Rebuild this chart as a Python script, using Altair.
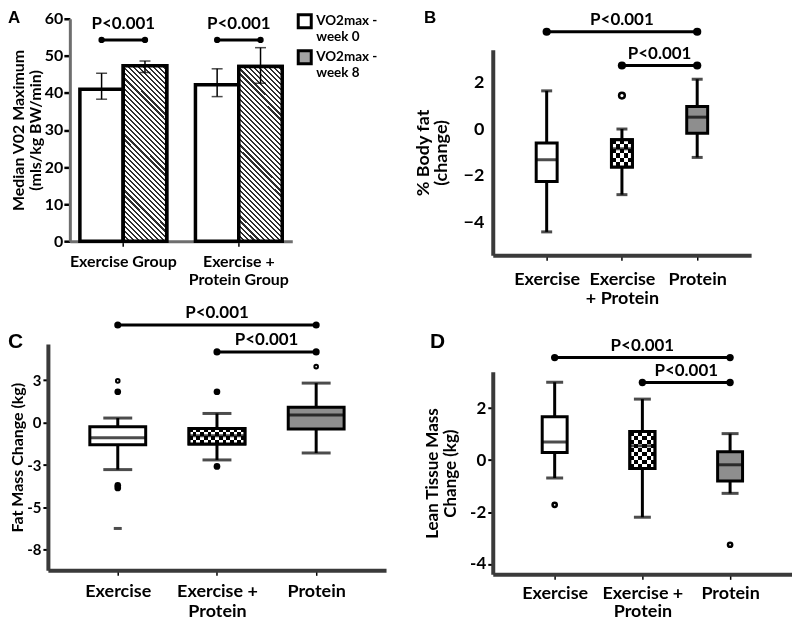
import json
import math
import altair as alt
import pandas as pd

FONT = "Lato"
LETTER_FONT = "Liberation Sans"
INK = "black"
AXIS_GRAY = "#3a3a3a"
BOX_GRAY = "#8e8e8e"

# ---------------- Panel A : grouped bars ----------------
A_GROUPS = ["Exercise Group", "Exercise + Protein Group"]
A_GROUP_LINES = [["Exercise Group"], ["Exercise +", "Protein Group"]]
A_SERIES = ["VO2max - week 0", "VO2max - week 8"]
A_MEDIAN_W0 = [41.0, 42.2]
A_MEDIAN_W8 = [47.3, 47.1]
A_LOW_W0 = [38.3, 39.0]
A_HIGH_W0 = [45.3, 46.5]
A_LOW_W8 = [45.5, 42.6]
A_HIGH_W8 = [48.6, 52.2]
A_Y_TICKS = [0, 10, 20, 30, 40, 50, 60]
A_Y_TITLE = ["Median V02 Maximum", "(mls/kg BW/min)"]
A_BRACKET_LEVEL = [54.3, 54.3]
A_P_TEXT = ["P<0.001", "P<0.001"]

# ---------------- Panels B, C, D : box plots ----------------
CATS = ["Exercise", "Exercise + Protein", "Protein"]
CAT_POS = [0, 1, 2]

B_X_LINES = [["Exercise"], ["Exercise", "+ Protein"], ["Protein"]]
B_LO = [-4.42, -2.82, -1.22]
B_Q1 = [-2.25, -1.63, -0.18]
B_MED = [-1.32, -0.85, 0.51]
B_Q3 = [-0.60, -0.46, 0.97]
B_HI = [1.64, 0.00, 2.14]
B_OUT_CAT = [1]
B_OUT_VAL = [1.44]
B_OUT_KIND = ["open"]
B_Y_TICKS = [2, 0, -2, -4]
B_Y_LABELS = ["2", "0", "\u22122", "\u22124"]
B_Y_TITLE = ["% Body fat", "(change)"]
B_BR_FROM = [0, 1]
B_BR_TO = [2, 2]
B_BR_LEVEL = [4.18, 2.73]
B_BR_TEXT = ["P<0.001", "P<0.001"]

C_X_LINES = [["Exercise"], ["Exercise +", "Protein"], ["Protein"]]
C_LO = [-2.77, -2.20, -1.79]
C_Q1 = [-1.30, -1.26, -0.38]
C_MED = [-0.89, -0.77, 0.45]
C_Q3 = [-0.24, -0.34, 0.90]
C_HI = [0.27, 0.54, 2.33]
C_OUT_CAT = [0, 0, 0, 0, 0, 1, 1, 2]
C_OUT_VAL = [2.46, 1.82, -3.70, -3.85, -6.24, 1.82, -2.58, 3.30]
C_OUT_KIND = ["open", "filled", "filled", "filled", "dash", "filled", "filled", "open"]
C_Y_TICKS = [2.5, 0, -2.5, -5, -7.5]
C_Y_LABELS = ["3", "0", "-3", "-5", "-8"]
C_Y_TITLE = "Fat Mass Change (kg)"
C_BR_FROM = [0, 1]
C_BR_TO = [2, 2]
C_BR_LEVEL = [5.76, 4.17]
C_BR_TEXT = ["P<0.001", "P<0.001"]

D_X_LINES = [["Exercise"], ["Exercise +", "Protein"], ["Protein"]]
D_LO = [-0.69, -2.20, -1.28]
D_Q1 = [0.29, -0.32, -0.80]
D_MED = [0.70, 0.55, -0.18]
D_Q3 = [1.67, 1.10, 0.32]
D_HI = [3.00, 2.35, 1.02]
D_OUT_CAT = [0, 2]
D_OUT_VAL = [-1.72, -3.26]
D_OUT_KIND = ["open", "open"]
D_Y_TICKS = [2, 0, -2, -4]
D_Y_LABELS = ["2", "0", "-2", "-4"]
D_Y_TITLE = ["Lean Tissue Mass", "Change (kg)"]
D_BR_FROM = [0, 1]
D_BR_TO = [2, 2]
D_BR_LEVEL = [3.95, 2.99]
D_BR_TEXT = ["P<0.001", "P<0.001"]


def lines_expr(keys, lines):
    expr = json.dumps(lines[-1], ensure_ascii=False)
    for k, l in zip(reversed(keys[:-1]), reversed(lines[:-1])):
        expr = (f"datum.value === {json.dumps(k)} ? "
                f"{json.dumps(l, ensure_ascii=False)} : ({expr})")
    return expr


def cell_stops(n, first, second):
    stops = []
    for i in range(n):
        c = first if i % 2 == 0 else second
        stops.append({"offset": round(i / n, 6), "color": c})
        stops.append({"offset": round((i + 1) / n, 6), "color": c})
    return stops


def hatch_fill(w, h, period, dark, light, duty):
    extent = (w + h) / math.sqrt(2)
    n = max(1, round(extent / period))
    stops = []
    for i in range(n):
        a = round(i / n, 6)
        b = round((i + duty) / n, 6)
        c = round((i + 1) / n, 6)
        stops += [{"offset": a, "color": dark}, {"offset": b, "color": dark},
                  {"offset": b, "color": light}, {"offset": c, "color": light}]
    s = (w + h) / (w * w + h * h)
    return {"gradient": "linear", "x1": 0, "y1": 1,
            "x2": round(s * w, 5), "y2": round(1 - s * h, 5), "stops": stops}


def letter_layer(letter, x, y, size):
    return alt.Chart(pd.DataFrame({"t": [letter]})).mark_text(
        align="left", baseline="alphabetic", font=LETTER_FONT, fontSize=size,
        fontWeight="bold", color=INK, x=x, y=y).encode(text="t:N")


# ---------------- build panel A ----------------
A_W, A_H = 223, 223
A_PAD_IN, A_PAD_OUT = 0.249, 0.087
a_step = A_W / (len(A_GROUPS) - A_PAD_IN + 2 * A_PAD_OUT)
a_bar_w = a_step * (1 - A_PAD_IN) / len(A_SERIES)

a_df = pd.DataFrame({
    "group": A_GROUPS * 2,
    "series": [A_SERIES[0]] * 2 + [A_SERIES[1]] * 2,
    "median": A_MEDIAN_W0 + A_MEDIAN_W8,
    "low": A_LOW_W0 + A_LOW_W8,
    "high": A_HIGH_W0 + A_HIGH_W8,
})
a_br = pd.DataFrame({"group": A_GROUPS, "level": A_BRACKET_LEVEL, "text": A_P_TEXT})
a_ends = pd.DataFrame({"group": A_GROUPS * 2,
                       "series": [A_SERIES[0]] * 2 + [A_SERIES[1]] * 2,
                       "level": A_BRACKET_LEVEL * 2})

a_xaxis = alt.Axis(title=None, labelAngle=0, labelExpr=lines_expr(A_GROUPS, A_GROUP_LINES),
                   labelFont=FONT, labelFontSize=16, labelFontWeight="bold", labelColor=INK,
                   labelLineHeight=18, labelPadding=7, tickSize=5, tickWidth=1.5, tickColor=INK,
                   domainColor="#6e6e6e", domainWidth=3)
a_yaxis = alt.Axis(title=A_Y_TITLE, values=A_Y_TICKS, grid=False,
                   labelFont=FONT, labelFontSize=16, labelFontWeight="bold", labelColor=INK,
                   labelPadding=1, tickSize=6, tickWidth=2.5, tickColor=INK,
                   domainColor="#6e6e6e", domainWidth=3,
                   titleFont=FONT, titleFontSize=16, titleFontWeight="bold", titleColor=INK,
                   titleLineHeight=17, titlePadding=1)
a_xs = alt.Scale(domain=A_GROUPS, paddingInner=A_PAD_IN, paddingOuter=A_PAD_OUT)
a_ys = alt.Scale(domain=[0, 60], nice=False, zero=True)
AX = alt.X("group:N", scale=a_xs, axis=a_xaxis)
AXO = alt.XOffset("series:N", scale=alt.Scale(domain=A_SERIES))


def AY(f):
    return alt.Y(f"{f}:Q", scale=a_ys, axis=a_yaxis)


a_legend = alt.Legend(title=None, orient="none", legendX=227, legendY=-6, symbolType="square",
                      symbolSize=170, symbolStrokeColor=INK, symbolStrokeWidth=3,
                      labelFont=FONT, labelFontSize=13.5, labelFontWeight="bold", labelColor=INK,
                      labelExpr="split(replace(datum.label, '- ', '-|'), '|')",
                      labelLimit=300, labelOffset=3, rowPadding=0)

hatch = hatch_fill(a_bar_w, sum(A_MEDIAN_W8) / 2 * A_H / 60, 3.6, "#2e2e2e", "white", 0.42)

a_layers = [
    alt.Chart(a_df).mark_bar(stroke=INK, strokeWidth=3.5).encode(
        x=AX, xOffset=AXO, y=AY("median"),
        fill=alt.Fill("series:N", scale=alt.Scale(domain=A_SERIES, range=["white", "#a3a3a3"]),
                      legend=a_legend)),
    alt.Chart(a_df).transform_filter(alt.datum.series == A_SERIES[1]).mark_bar(
        fill=hatch, stroke=INK, strokeWidth=3.5).encode(x=AX, xOffset=AXO, y=AY("median")),
    alt.Chart(a_df).mark_rule(color=INK, strokeWidth=1.5).encode(
        x=AX, xOffset=AXO, y=AY("low"), y2="high"),
    alt.Chart(a_df).mark_tick(color=INK, orient="horizontal", size=11, thickness=1.5).encode(
        x=AX, xOffset=AXO, y=AY("low")),
    alt.Chart(a_df).mark_tick(color=INK, orient="horizontal", size=11, thickness=1.5).encode(
        x=AX, xOffset=AXO, y=AY("high")),
    alt.Chart(a_br).mark_rule(color=INK, strokeWidth=3, xOffset=-a_bar_w / 2,
                              x2Offset=a_bar_w / 2).encode(x=AX, x2="group:N", y=AY("level")),
    alt.Chart(a_ends).mark_point(filled=True, color=INK, size=40, opacity=1).encode(
        x=AX, xOffset=AXO, y=AY("level")),
    alt.Chart(a_br).mark_text(font=FONT, fontSize=17, fontWeight="bold", color=INK,
                              baseline="alphabetic", dy=-11).encode(x=AX, y=AY("level"), text="text:N"),
    letter_layer("A", -62, 4, 17),
]
panel_a = alt.layer(*a_layers).properties(width=A_W, height=A_H)


# ---------------- build box panels ----------------
def box_panel(P):
    df = pd.DataFrame({"pos": CAT_POS, "cat": CATS, "lo": P["lo"], "q1": P["q1"],
                       "med": P["med"], "q3": P["q3"], "hi": P["hi"]})
    out = pd.DataFrame({"pos": P["out_cat"], "val": P["out_val"], "kind": P["out_kind"]})
    br = pd.DataFrame({"a": P["br_from"], "b": P["br_to"], "level": P["br_level"],
                       "text": P["br_text"]})
    ends = pd.DataFrame({"pos": P["br_from"] + P["br_to"], "level": P["br_level"] * 2})

    xs_kw = dict(domain=P["xdom"], nice=False, zero=False)
    if "xrange" in P:
        xs_kw["range"] = P["xrange"]
    ys_kw = dict(domain=P["ydom"], nice=False, zero=False)
    if "yrange" in P:
        ys_kw["range"] = P["yrange"]
    xs = alt.Scale(**xs_kw)
    ys = alt.Scale(**ys_kw)

    xaxis = alt.Axis(title=None, values=CAT_POS, labelExpr=lines_expr(CAT_POS, P["xlines"]),
                     grid=False, labelFlush=False, labelOverlap=False, labelBound=False,
                     labelFont=FONT, labelFontSize=P["xlab_size"], labelFontWeight="bold",
                     labelColor=INK, labelLineHeight=P["xlab_lh"], labelPadding=P["xlab_pad"],
                     tickSize=5, tickWidth=1.5, tickColor=INK,
                     domainColor=AXIS_GRAY, domainWidth=4)
    yax_kw = dict(title=P["ytitle"], values=P["yticks"],
                  labelExpr=lines_expr(P["yticks"], P["ylabels"]),
                  grid=False, labelFlush=False, labelOverlap=False,
                  labelFont=FONT, labelFontSize=P["ylab_size"], labelFontWeight="bold",
                  labelColor=INK, labelPadding=P["ylab_pad"],
                  tickSize=P["ytick"], tickWidth=2, tickColor=INK,
                  domainColor=AXIS_GRAY, domainWidth=4,
                  titleFont=FONT, titleFontSize=P["ytitle_size"], titleFontWeight="bold",
                  titleColor=INK, titleLineHeight=P["ytitle_size"] + 1,
                  titlePadding=P["ytitle_pad"])
    if P["ytick"] == 0:
        yax_kw["ticks"] = False
    if "yoffset" in P:
        yax_kw["offset"] = P["yoffset"]
    yaxis = alt.Axis(**yax_kw)

    def X(f):
        return alt.X(f"{f}:Q", scale=xs, axis=xaxis)

    def Y(f):
        return alt.Y(f"{f}:Q", scale=ys, axis=yaxis)

    bw = P["box_w"]
    span = abs(P["yrange"][0] - P["yrange"][1]) if "yrange" in P else P["height"]
    ppu = span / (P["ydom"][1] - P["ydom"][0])
    ep = CAT_POS[1]
    box_h = (P["q3"][1] - P["q1"][1]) * ppu
    nx = max(2, round(bw / P["cell"]))
    ny = max(2, round(box_h / P["cell"]))
    vgrad = {"gradient": "linear", "x1": 0, "y1": 0, "x2": 1, "y2": 0,
             "stops": cell_stops(nx, "black", "white")}
    hgrad = {"gradient": "linear", "x1": 0, "y1": 0, "x2": 0, "y2": 1,
             "stops": cell_stops(ny, "black", "white")}

    base = alt.Chart(df)
    epd = base.transform_filter(alt.datum.pos == ep)
    layers = [
        base.mark_rule(color=INK, strokeWidth=3).encode(x=X("pos"), y=Y("lo"), y2="hi"),
        base.mark_tick(color=INK, orient="horizontal", size=P["cap_w"], thickness=3).encode(
            x=X("pos"), y=Y("lo")),
        base.mark_tick(color=INK, orient="horizontal", size=P["cap_w"], thickness=3).encode(
            x=X("pos"), y=Y("hi")),
        base.mark_bar(size=bw, stroke=INK, strokeWidth=3).encode(
            x=X("pos"), y=Y("q1"), y2="q3",
            fill=alt.Fill("cat:N", scale=alt.Scale(domain=CATS, range=["white", "white", BOX_GRAY]),
                          legend=None)),
        epd.mark_bar(size=bw, fill=vgrad).encode(x=X("pos"), y=Y("q1"), y2="q3"),
        epd.mark_bar(size=bw, fill=hgrad, blend="difference").encode(x=X("pos"), y=Y("q1"), y2="q3"),
        epd.mark_bar(size=bw, fillOpacity=0, stroke=INK, strokeWidth=3).encode(
            x=X("pos"), y=Y("q1"), y2="q3"),
        base.mark_tick(color=INK, orient="horizontal", size=bw, thickness=3).encode(
            x=X("pos"), y=Y("med")),
        alt.Chart(out).transform_filter(alt.datum.kind == "open").mark_point(
            shape="circle", filled=True, fill="white", stroke=INK, strokeWidth=P["open_sw"],
            size=P["open_size"], opacity=1).encode(x=X("pos"), y=Y("val")),
        alt.Chart(out).transform_filter(alt.datum.kind == "filled").mark_point(
            shape="circle", filled=True, color=INK, size=P["fill_size"], opacity=1).encode(
            x=X("pos"), y=Y("val")),
        alt.Chart(out).transform_filter(alt.datum.kind == "dash").mark_tick(
            color=INK, orient="horizontal", size=8, thickness=3).encode(x=X("pos"), y=Y("val")),
        alt.Chart(br).mark_rule(color=INK, strokeWidth=3).encode(x=X("a"), x2="b", y=Y("level")),
        alt.Chart(ends).mark_point(filled=True, color=INK, size=P["dot_size"], opacity=1).encode(
            x=X("pos"), y=Y("level")),
        alt.Chart(br).transform_calculate(mid="(datum.a + datum.b) / 2").mark_text(
            font=FONT, fontSize=P["p_size"], fontWeight="bold", color=INK,
            baseline="alphabetic", dy=P["p_dy"]).encode(x=X("mid"), y=Y("level"), text="text:N"),
        letter_layer(P["letter"], P["letter_x"], P["letter_y"], P["letter_size"]),
    ]
    return alt.layer(*layers).properties(width=P["width"], height=P["height"])


panel_b = box_panel(dict(
    lo=B_LO, q1=B_Q1, med=B_MED, q3=B_Q3, hi=B_HI,
    out_cat=B_OUT_CAT, out_val=B_OUT_VAL, out_kind=B_OUT_KIND,
    br_from=B_BR_FROM, br_to=B_BR_TO, br_level=B_BR_LEVEL, br_text=B_BR_TEXT,
    xlines=B_X_LINES, yticks=B_Y_TICKS, ylabels=B_Y_LABELS, ytitle=B_Y_TITLE,
    xdom=[-0.65, 2.65], ydom=[-5.42, 3.41], yrange=[237, 31], width=259, height=237,
    xlab_size=18, xlab_lh=19, xlab_pad=10, ylab_size=18, ylab_pad=9, ytick=0,
    ytitle_size=18, ytitle_pad=12, box_w=21, cap_w=11, cell=4.4,
    open_size=33, open_sw=2.5, fill_size=45, dot_size=68, p_size=17, p_dy=-7,
    letter="B", letter_x=-69, letter_y=4, letter_size=17))

panel_c = box_panel(dict(
    lo=C_LO, q1=C_Q1, med=C_MED, q3=C_Q3, hi=C_HI,
    out_cat=C_OUT_CAT, out_val=C_OUT_VAL, out_kind=C_OUT_KIND,
    br_from=C_BR_FROM, br_to=C_BR_TO, br_level=C_BR_LEVEL, br_text=C_BR_TEXT,
    xlines=C_X_LINES, yticks=C_Y_TICKS, ylabels=C_Y_LABELS, ytitle=C_Y_TITLE,
    xdom=[-0.654, 2.654], xrange=[-22, 317], ydom=[-8.71, 4.64], width=217, height=227,
    yoffset=22,
    xlab_size=18, xlab_lh=20, xlab_pad=7, ylab_size=15, ylab_pad=2, ytick=5,
    ytitle_size=16, ytitle_pad=1, box_w=56, cap_w=29, cell=3.7,
    open_size=13, open_sw=2, fill_size=45, dot_size=50, p_size=17, p_dy=-7,
    letter="C", letter_x=-62, letter_y=4, letter_size=21))

panel_d = box_panel(dict(
    lo=D_LO, q1=D_Q1, med=D_MED, q3=D_Q3, hi=D_HI,
    out_cat=D_OUT_CAT, out_val=D_OUT_VAL, out_kind=D_OUT_KIND,
    br_from=D_BR_FROM, br_to=D_BR_TO, br_level=D_BR_LEVEL, br_text=D_BR_TEXT,
    xlines=D_X_LINES, yticks=D_Y_TICKS, ylabels=D_Y_LABELS, ytitle=D_Y_TITLE,
    xdom=[-0.649, 2.649], ydom=[-4.40, 3.40], yrange=[231, 28], width=300, height=231,
    xlab_size=18, xlab_lh=18, xlab_pad=5, ylab_size=17, ylab_pad=2, ytick=5,
    ytitle_size=17, ytitle_pad=10, box_w=25, cap_w=17, cell=4.2,
    open_size=18, open_sw=2.5, fill_size=45, dot_size=54, p_size=17, p_dy=-7,
    letter="D", letter_x=-63, letter_y=4, letter_size=21))

chart = alt.concat(panel_a, panel_b, panel_c, panel_d, columns=2,
                   spacing={"row": 89, "column": 201}).properties(
    bounds="flush", align="none", padding=0, background="white"
).resolve_scale(fill="independent").resolve_legend(fill="independent").configure_view(strokeWidth=0)

chart.save("out.html", embed_options={"renderer": "svg", "actions": False})
